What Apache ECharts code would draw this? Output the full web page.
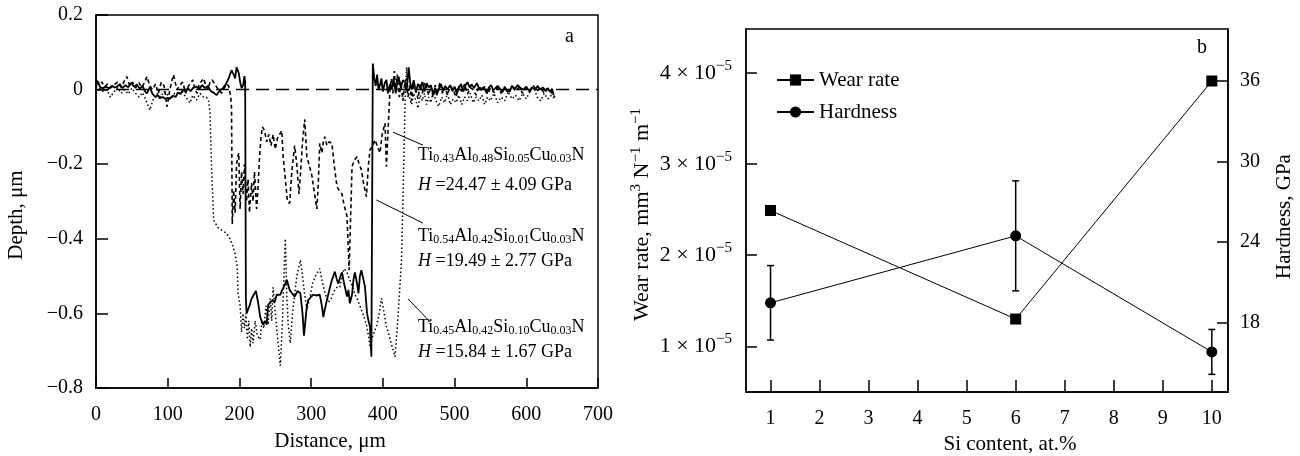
<!DOCTYPE html>
<html>
<head>
<meta charset="utf-8">
<title>Wear track profiles and wear rate / hardness</title>
<script src="https://cdn.jsdelivr.net/npm/echarts@6/dist/echarts.min.js"></script>
<style>
  html, body { margin: 0; padding: 0; background: #fff; }
  #chart { width: 1300px; height: 456px; }
</style>
</head>
<body>
<div id="chart"></div>
<script>
// ---- panel a: wear track profiles [distance um, depth um] ----
// solid line, Ti0.54Al0.42Si0.01Cu0.03N
const profileSi01 = [
  [0,0.026],[3,0.02],[6,0.006],[10,0.004],[14,0.008],[18,0.003],[22,0.01],[26,0.006],[29,0.007],[33,0.015],
  [37,0.004],[41,0.012],[45,0.006],[49,0.018],[53,0.008],[57,0.014],[61,0.002],[65,0.01],[68,-0.004],[71,-0.01],
  [75,0.006],[79,-0.012],[83,-0.02],[86,-0.014],[89,-0.023],[93,-0.02],[97,-0.025],[100,-0.022],[103,-0.025],[107,-0.016],
  [111,-0.02],[114,-0.008],[118,-0.012],[121,0.0],[125,-0.006],[128,0.004],[132,-0.004],[136,0.006],[140,0.008],[144,0.002],
  [148,0.012],[152,0.004],[156,0.01],[160,-0.004],[164,-0.008],[168,-0.015],[172,-0.004],[177,0.004],[181,0.014],[185,0.03],
  [189,0.052],[192,0.04],[194,0.03],[196,0.06],[199,0.045],[201,0.02],[203,0.004],[205,0.01],[207,0.036],[208,0.02],
  [209,-0.56],[210,-0.6],[212,-0.6],[214,-0.58],[217,-0.56],[220,-0.55],[223,-0.54],[226,-0.57],[229,-0.61],[231,-0.62],
  [233,-0.63],[236,-0.62],[238,-0.63],[240,-0.578],[243,-0.57],[246,-0.565],[249,-0.57],[252,-0.55],[254,-0.546],[257,-0.55],
  [260,-0.535],[263,-0.525],[266,-0.51],[270,-0.537],[273,-0.545],[277,-0.555],[281,-0.54],[285,-0.546],[288,-0.6],[290,-0.66],
  [292,-0.62],[294,-0.58],[296,-0.564],[300,-0.555],[303,-0.55],[307,-0.552],[312,-0.55],[315,-0.58],[317,-0.61],[319,-0.59],
  [322,-0.564],[325,-0.54],[329,-0.51],[331,-0.5],[333,-0.488],[336,-0.51],[338,-0.52],[341,-0.5],[343,-0.49],[346,-0.52],
  [350,-0.555],[352,-0.537],[354,-0.573],[357,-0.55],[359,-0.51],[361,-0.49],[364,-0.52],[366,-0.546],[368,-0.5],[370,-0.484],
  [373,-0.51],[375,-0.528],[378,-0.6],[380,-0.62],[382,-0.635],[384,-0.716],[386,0.07],[388,0.03],[390,0.01],[392,0.04],
  [394,0.0],[396,0.012],[398,0.03],[400,-0.005],[403,0.02],[405,0.026],[407,-0.01],[410,0.015],[412,0.0],[415,0.03],
  [418,-0.01],[420,0.02],[422,0.035],[425,0.005],[428,0.025],[431,0.02],[433,-0.005],[436,0.06],[438,0.02],[440,0.0],
  [443,0.025],[446,-0.008],[449,0.015],[452,0.005],[455,0.02],[458,-0.005],[461,0.017],[464,0.006],[467,0.012],[470,-0.012],
  [473,0.004],[475,-0.015],[478,0.002],[481,0.015],[484,-0.004],[487,0.01],[490,0.0],[494,0.012],[497,-0.004],[500,0.008],
  [503,-0.01],[506,0.003],[509,0.015],[512,-0.005],[515,0.01],[518,0.02],[521,0.006],[524,0.014],[527,0.004],[531,0.017],
  [534,0.005],[537,0.002],[541,0.006],[545,-0.01],[548,0.006],[551,0.012],[554,-0.002],[557,0.004],[560,0.01],[563,0.003],
  [567,-0.006],[570,0.008],[573,-0.004],[577,-0.005],[580,0.01],[584,0.002],[588,0.012],[592,0.004],[596,0.0],[600,0.008],
  [604,-0.004],[608,0.006],[612,0.0],[616,0.01],[619,0.0],[623,0.006],[627,-0.004],[630,0.004],[633,-0.006],[636,0.002],
  [638,-0.015]
];
// dashed line, Ti0.43Al0.48Si0.05Cu0.03N
const profileSi05 = [
  [0,0.02],[4,0.012],[8,0.02],[12,0.008],[16,0.015],[20,0.004],[25,0.012],[30,0.02],[35,0.006],[40,0.025],
  [43,0.035],[47,0.01],[51,0.02],[55,0.004],[60,0.018],[64,0.006],[68,0.02],[71,0.035],[75,0.01],[79,0.0],
  [83,0.015],[87,-0.01],[91,0.02],[95,0.01],[99,-0.046],[103,0.0],[106,0.025],[108,0.04],[111,0.015],[113,0.0],
  [117,0.012],[121,0.02],[125,-0.01],[129,0.01],[132,0.018],[135,0.026],[138,0.0],[141,-0.01],[144,0.015],[147,0.022],
  [150,0.03],[153,0.012],[156,0.0],[159,0.02],[162,0.026],[164,0.03],[167,0.01],[171,0.0],[175,-0.01],[179,0.005],
  [182,0.015],[185,0.01],[188,-0.02],[189,-0.05],[190,-0.36],[192,-0.27],[194,-0.33],[196,-0.2],[199,-0.17],[201,-0.32],
  [203,-0.22],[205,-0.28],[207,-0.2],[210,-0.3],[212,-0.24],[214,-0.33],[217,-0.25],[219,-0.3],[221,-0.22],[224,-0.32],
  [226,-0.26],[228,-0.18],[230,-0.13],[232,-0.1],[235,-0.11],[238,-0.14],[241,-0.12],[244,-0.15],[247,-0.12],[250,-0.16],
  [253,-0.13],[256,-0.12],[259,-0.11],[261,-0.18],[264,-0.24],[267,-0.3],[270,-0.305],[273,-0.22],[277,-0.15],[280,-0.2],
  [283,-0.28],[285,-0.23],[288,-0.14],[291,-0.08],[294,-0.18],[297,-0.2],[301,-0.23],[304,-0.27],[308,-0.32],[310,-0.25],
  [312,-0.144],[315,-0.17],[317,-0.14],[319,-0.126],[322,-0.15],[325,-0.14],[329,-0.144],[332,-0.2],[336,-0.26],[339,-0.27],
  [343,-0.28],[346,-0.31],[350,-0.34],[353,-0.484],[357,-0.207],[360,-0.19],[364,-0.18],[367,-0.2],[370,-0.215],[373,-0.25],
  [377,-0.287],[380,-0.2],[382,-0.162],[386,-0.15],[389,-0.135],[392,-0.15],[396,-0.17],[399,-0.12],[403,-0.09],[405,-0.207],
  [407,-0.12],[410,0.0],[412,0.03],[414,-0.01],[416,0.05],[418,0.0],[420,0.04],[423,-0.02],[425,0.02],[428,-0.03],
  [430,0.01],[433,0.03],[435,-0.02],[438,0.015],[440,-0.03],[443,0.02],[446,0.0],[449,-0.025],[452,0.015],[455,-0.01],
  [458,0.02],[461,0.005],[464,-0.015],[467,0.01],[470,-0.02],[473,0.012],[476,-0.005],[480,0.02],[483,-0.01],[487,0.008],
  [490,-0.015],[494,0.01],[498,0.0],[502,-0.02],[506,0.01],[510,-0.005],[514,0.015],[518,-0.012],[522,0.005],[526,0.0],
  [530,-0.015],[534,0.01],[538,-0.005],[542,0.008],[546,-0.012],[550,0.004],[555,-0.008],[560,0.006],[565,-0.01],[570,0.004],
  [575,-0.006],[580,0.008],[585,-0.004],[590,0.006],[595,-0.01],[600,0.004],[605,-0.006],[610,0.01],[615,-0.004],[620,0.006],
  [625,-0.01],[630,0.004],[635,-0.008],[640,-0.02]
];
// dotted line, Ti0.45Al0.42Si0.10Cu0.03N
const profileSi10 = [
  [0,0.01],[5,0.004],[10,-0.005],[15,0.0],[20,-0.02],[25,-0.006],[30,0.005],[35,-0.01],[40,0.0],[45,-0.012],
  [50,0.004],[55,-0.01],[60,-0.02],[65,-0.008],[70,-0.03],[75,-0.055],[80,-0.025],[85,-0.01],[90,-0.02],[95,-0.005],
  [100,-0.015],[105,-0.025],[110,-0.008],[115,-0.015],[120,-0.004],[125,-0.02],[131,-0.036],[135,-0.015],[140,-0.028],[145,-0.01],
  [150,-0.02],[154,-0.02],[157,-0.03],[159,-0.06],[161,-0.2],[164,-0.35],[170,-0.37],[176,-0.378],[182,-0.385],[187,-0.4],
  [191,-0.42],[194,-0.44],[197,-0.475],[198,-0.546],[201,-0.58],[203,-0.65],[205,-0.6],[207,-0.64],[209,-0.6],[211,-0.67],
  [213,-0.62],[215,-0.69],[217,-0.64],[219,-0.68],[222,-0.62],[225,-0.66],[229,-0.67],[231,-0.62],[234,-0.64],[237,-0.58],
  [240,-0.63],[243,-0.56],[245,-0.62],[247,-0.53],[250,-0.6],[253,-0.66],[257,-0.74],[260,-0.62],[262,-0.5],[264,-0.4],
  [266,-0.55],[268,-0.63],[271,-0.68],[274,-0.6],[277,-0.55],[280,-0.5],[285,-0.457],[288,-0.5],[291,-0.55],[294,-0.59],
  [298,-0.56],[302,-0.52],[306,-0.5],[309,-0.49],[312,-0.48],[316,-0.52],[320,-0.55],[324,-0.57],[328,-0.56],[332,-0.54],
  [336,-0.53],[340,-0.53],[343,-0.5],[346,-0.48],[350,-0.49],[354,-0.51],[358,-0.53],[361,-0.55],[364,-0.56],[368,-0.58],
  [372,-0.6],[377,-0.63],[380,-0.66],[382,-0.69],[386,-0.66],[391,-0.635],[395,-0.6],[398,-0.56],[401,-0.59],[405,-0.635],
  [409,-0.66],[413,-0.69],[417,-0.716],[420,-0.64],[423,-0.55],[426,-0.457],[428,-0.3],[430,-0.12],[431,-0.03],[433,0.06],
  [435,0.0],[437,-0.02],[440,-0.04],[443,-0.01],[446,-0.03],[449,-0.05],[452,-0.015],[455,-0.03],[458,-0.01],[461,-0.04],
  [464,-0.02],[467,-0.035],[470,-0.005],[474,-0.03],[478,-0.045],[482,-0.02],[486,-0.035],[490,-0.01],[494,-0.04],[498,-0.025],
  [502,-0.035],[506,-0.015],[510,-0.04],[514,-0.02],[518,-0.03],[522,-0.01],[526,-0.035],[530,-0.02],[534,-0.03],[538,-0.015],
  [542,-0.04],[546,-0.02],[550,-0.03],[555,-0.01],[560,-0.035],[565,-0.02],[570,-0.03],[575,-0.005],[580,-0.025],[585,-0.015],
  [590,-0.03],[595,-0.01],[600,-0.025],[605,-0.005],[610,0.01],[615,-0.02],[620,-0.03],[625,-0.01],[630,-0.025],[635,-0.015],
  [640,-0.025]
];
const zeroLine = [[0, 0], [700, 0]];
// leader lines from the labels to the curves (data coords)
const leaderSi05 = [[414, -0.114], [456, -0.149]];
const leaderSi01 = [[391, -0.296], [456, -0.358]];
const leaderSi10 = [[435, -0.561], [466, -0.623]];

// ---- panel b: wear rate and hardness vs Si content ----
const siContent = [1, 6, 10];
const wearRate = [2.49e-5, 1.30e-5, 3.91e-5];
const hardness = [19.49, 24.47, 15.84];
const hardnessErr = [2.77, 4.09, 1.67];
const siTicks = [1, 2, 3, 4, 5, 6, 7, 8, 9, 10];
const wearTicks = [1e-5, 2e-5, 3e-5, 4e-5];
const hardTicks = [18, 24, 30, 36];

const FONT = '"Liberation Serif", "Times New Roman", serif';
const chart = echarts.init(document.getElementById('chart'));

const sub = { fontFamily: FONT, fontSize: 12, lineHeight: 12, padding: [8, 0, 0, 0], color: '#000' };
const main = { fontFamily: FONT, fontSize: 18, color: '#000' };
const sup = (fs, pad) => ({ fontFamily: FONT, fontSize: fs, lineHeight: fs, padding: [0, 0, pad, 0], color: '#000' });

function formula(a, b, c, d) {
  return '{m|Ti}{s|' + a + '}{m|Al}{s|' + b + '}{m|Si}{s|' + c + '}{m|Cu}{s|' + d + '}{m|N}';
}
function textAt(x, y, text, extra) {
  return {
    type: 'text', x: x, y: y, silent: true,
    style: Object.assign({
      text: text, fill: '#000', fontFamily: FONT, fontSize: 18,
      verticalAlign: 'middle', align: 'left',
      rich: { m: main, s: sub, i: { fontFamily: FONT, fontSize: 18, fontStyle: 'italic', color: '#000' } }
    }, extra || {})
  };
}

const axisBlack = { onZero: false, lineStyle: { color: '#000', width: 1.5 } };
const tickIn = (len) => ({ inside: true, length: len, lineStyle: { color: '#000', width: 1.5 } });
const lbl = { color: '#000', fontFamily: FONT, fontSize: 20 };

function depthLabel(v) {
  let s = Math.abs(v).toFixed(1);
  if (s === '0.0') return '0';
  return (v < 0 ? '\u2212' : '') + s;
}
function leader(data) {
  return {
    type: 'line', xAxisIndex: 0, yAxisIndex: 0, data: data, symbol: 'none', silent: true,
    lineStyle: { color: '#000', width: 1 }, z: 5
  };
}

const gridBase = {
  show: true, borderColor: '#000', borderWidth: 1.5, backgroundColor: 'transparent',
  containLabel: false, outerBoundsMode: 'none'
};

const option = {
  animation: false,
  backgroundColor: '#fff',
  grid: [
    Object.assign({ left: 96, top: 15, width: 502, height: 373 }, gridBase),
    Object.assign({ left: 746, top: 29, width: 482, height: 363 }, gridBase)
  ],
  legend: {
    left: 771, top: 64, orient: 'vertical', itemWidth: 37, itemHeight: 14, itemGap: 10,
    data: ['Wear rate', 'Hardness'],
    lineStyle: { width: 2 },
    textStyle: { color: '#000', fontFamily: FONT, fontSize: 21, lineHeight: 22 }
  },
  xAxis: [
    {
      type: 'value', gridIndex: 0, min: 0, max: 700, interval: 100,
      name: 'Distance, \u03bcm', nameLocation: 'middle', nameGap: 43,
      nameTextStyle: { color: '#000', fontFamily: FONT, fontSize: 21, padding: [0, 34, 0, 0] },
      axisLine: axisBlack, axisTick: tickIn(10), splitLine: { show: false },
      axisLabel: Object.assign({ margin: 17 }, lbl)
    },
    {
      type: 'value', gridIndex: 1, min: 0.5, max: 10.33,
      name: 'Si content, at.%', nameLocation: 'middle', nameGap: 41,
      nameTextStyle: { color: '#000', fontFamily: FONT, fontSize: 21, padding: [0, 0, 0, 46] },
      axisLine: axisBlack, splitLine: { show: false },
      axisTick: Object.assign(tickIn(12), { customValues: siTicks }),
      axisLabel: Object.assign({ margin: 17, customValues: siTicks }, lbl)
    }
  ],
  yAxis: [
    {
      type: 'value', gridIndex: 0, min: -0.8, max: 0.2, interval: 0.2,
      name: 'Depth, \u03bcm', nameLocation: 'middle', nameGap: 69, nameRotate: 90,
      nameTextStyle: { color: '#000', fontFamily: FONT, fontSize: 21, padding: [0, 27, 0, 0] },
      axisLine: axisBlack, axisTick: tickIn(12), splitLine: { show: false },
      axisLabel: Object.assign({ margin: 13, formatter: depthLabel }, lbl)
    },
    {
      type: 'value', gridIndex: 1, min: 0.5e-5, max: 4.48e-5, position: 'left',
      name: 'Wear rate, mm{p|3} N{p|\u22121} m{p|\u22121}', nameLocation: 'middle', nameGap: 86, nameRotate: 90,
      nameTextStyle: { color: '#000', fontFamily: FONT, fontSize: 22, padding: [0, 8, 0, 0], rich: { p: sup(15, 12) } },
      axisLine: axisBlack, splitLine: { show: false },
      axisTick: Object.assign(tickIn(11), { customValues: wearTicks }),
      axisLabel: {
        margin: 14, customValues: wearTicks,
        formatter: (v) => '{m|' + Math.round(v * 1e5) + ' \u00d7 10}{p|\u22125}',
        rich: { m: { fontFamily: FONT, fontSize: 22, color: '#000' }, p: sup(15, 14) }
      }
    },
    {
      type: 'value', gridIndex: 1, min: 12.86, max: 39.85, position: 'right',
      name: 'Hardness, GPa', nameLocation: 'middle', nameGap: 46, nameRotate: 90,
      nameTextStyle: { color: '#000', fontFamily: FONT, fontSize: 21, padding: [0, 12, 0, 0] },
      axisLine: axisBlack, splitLine: { show: false },
      axisTick: Object.assign(tickIn(11), { customValues: hardTicks }),
      axisLabel: Object.assign({ margin: 12, customValues: hardTicks }, lbl)
    }
  ],
  series: [
    {
      type: 'line', xAxisIndex: 0, yAxisIndex: 0, data: zeroLine, symbol: 'none', silent: true,
      lineStyle: { color: '#000', width: 1.5, type: [13, 7] }, z: 1
    },
    {
      type: 'line', xAxisIndex: 0, yAxisIndex: 0, data: profileSi10, symbol: 'none',
      lineStyle: { color: '#000', width: 1.5, type: [1.5, 2.5] }, z: 2
    },
    {
      type: 'line', xAxisIndex: 0, yAxisIndex: 0, data: profileSi05, symbol: 'none',
      lineStyle: { color: '#000', width: 1.6, type: [4, 3] }, z: 3
    },
    {
      type: 'line', xAxisIndex: 0, yAxisIndex: 0, data: profileSi01, symbol: 'none',
      lineStyle: { color: '#000', width: 1.8 }, z: 4
    },
    leader(leaderSi05),
    leader(leaderSi01),
    leader(leaderSi10),
    {
      name: 'Wear rate', type: 'line', xAxisIndex: 1, yAxisIndex: 1,
      data: siContent.map((x, i) => [x, wearRate[i]]),
      symbol: 'rect', symbolSize: 11, itemStyle: { color: '#000' },
      lineStyle: { color: '#000', width: 1 }, z: 4
    },
    {
      name: 'Hardness', type: 'line', xAxisIndex: 1, yAxisIndex: 2,
      data: siContent.map((x, i) => [x, hardness[i]]),
      symbol: 'circle', symbolSize: 11, itemStyle: { color: '#000' },
      lineStyle: { color: '#000', width: 1 }, z: 4
    },
    {
      type: 'custom', xAxisIndex: 1, yAxisIndex: 2, silent: true, z: 3,
      data: siContent.map((x, i) => [x, hardness[i] - hardnessErr[i], hardness[i] + hardnessErr[i]]),
      encode: { x: 0, y: [1, 2] },
      renderItem: function (params, api) {
        const x = api.value(0);
        const lo = api.coord([x, api.value(1)]);
        const hi = api.coord([x, api.value(2)]);
        const w = 3.5;
        const st = { stroke: '#000', lineWidth: 1.5 };
        return {
          type: 'group',
          children: [
            { type: 'line', shape: { x1: lo[0], y1: lo[1], x2: hi[0], y2: hi[1] }, style: st },
            { type: 'line', shape: { x1: lo[0] - w, y1: lo[1], x2: lo[0] + w, y2: lo[1] }, style: st },
            { type: 'line', shape: { x1: hi[0] - w, y1: hi[1], x2: hi[0] + w, y2: hi[1] }, style: st }
          ]
        };
      }
    }
  ],
  graphic: [
    textAt(418, 155, formula('0.43', '0.48', '0.05', '0.03')),
    textAt(418, 185, '{i|H} =24.47 \u00b1 4.09 GPa'),
    textAt(418, 236, formula('0.54', '0.42', '0.01', '0.03')),
    textAt(418, 261, '{i|H} =19.49 \u00b1 2.77 GPa'),
    textAt(418, 327, formula('0.45', '0.42', '0.10', '0.03')),
    textAt(418, 352, '{i|H} =15.84 \u00b1 1.67 GPa'),
    textAt(565, 37, 'a', { fontSize: 20 }),
    textAt(1197, 48, 'b', { fontSize: 20 })
  ]
};

chart.setOption(option);
</script>
</body>
</html>
